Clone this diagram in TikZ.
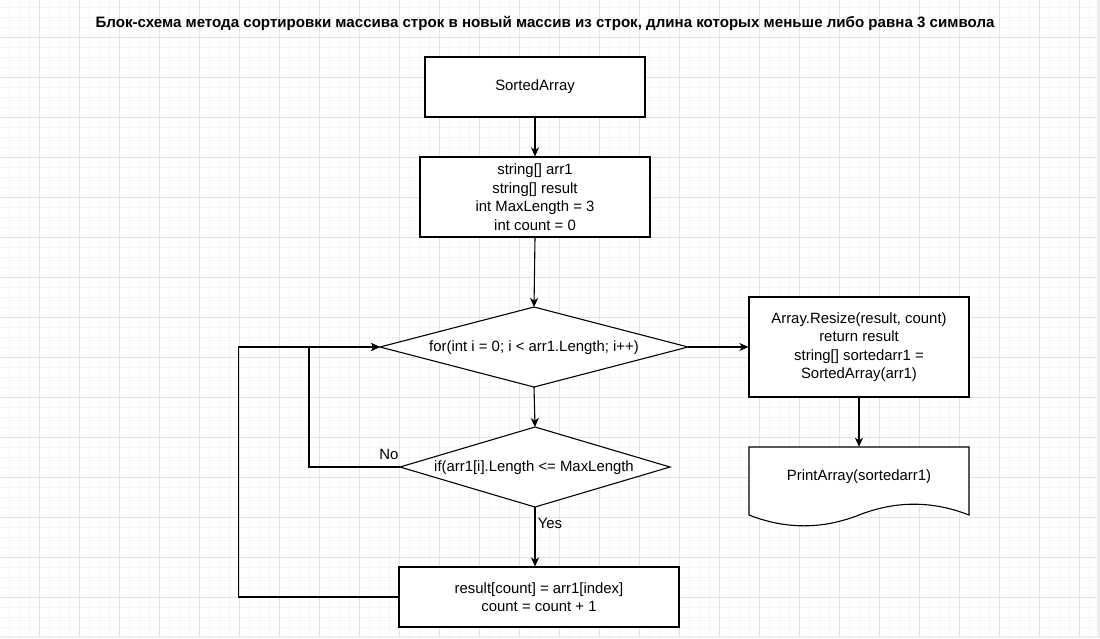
\documentclass[tikz,border=0pt]{standalone}
\usepackage{fontspec}
\setmainfont{Liberation Sans}
\usetikzlibrary{arrows.meta,shapes.geometric}
\definecolor{gmin}{HTML}{F5F5F5}
\definecolor{gmaj}{HTML}{E2E2E2}
\definecolor{edgegray}{HTML}{EEEEEE}
\begin{document}
\begin{tikzpicture}[x=1pt,y=-1pt,
  txt/.style={align=center,inner sep=0pt,font=\fontsize{14.9}{18.5}\selectfont},
  box/.style={txt,draw,line width=1.1pt,fill=white},
  dia/.style={draw,diamond,line width=1.1pt,fill=white,inner sep=0pt,outer sep=0pt},
  arr/.style={line width=1.1pt,-{Stealth[length=9pt,width=8pt,inset=2.5pt]}},
  lbl/.style={txt}
]
\useasboundingbox (0,0) rectangle (1100,638);
\fill[white] (0,0) rectangle (1100,638);
% grid
\foreach \i in {0,...,109} {\draw[gmin,line width=0.8pt] (9.5+10*\i,0) -- (9.5+10*\i,636);}
\foreach \i in {0,...,63} {\draw[gmin,line width=0.8pt] (0,7+10*\i) -- (1097,7+10*\i);}
\foreach \i in {1,...,27} {\draw[gmaj,line width=0.9pt] (40*\i-0.5,0) -- (40*\i-0.5,636);}
\foreach \i in {0,...,14} {\draw[gmaj,line width=0.9pt] (0,37+40*\i) -- (1097,37+40*\i);}
\fill[edgegray] (0,636) rectangle (1100,638);
\fill[edgegray] (1097,0) rectangle (1100,638);

% title
\node[font=\bfseries\fontsize{15.1}{18}\selectfont,inner sep=0pt] (title) at (545,23)
  {Блок-схема метода сортировки массива строк в новый массив из строк, длина которых меньше либо равна 3 символа};

% nodes
\node[box,minimum width=220pt,minimum height=60pt] (start) at (535,87) {\raisebox{-1.5pt}{SortedArray}};
\node[box,minimum width=230pt,minimum height=80pt] (vars) at (535,197)
  {string[] arr1\\string[] result\\int MaxLength = 3\\int count = 0};
\node[dia,minimum width=308pt,minimum height=80pt] (for) at (534,347) {};
\node[txt] (fortext) at (534,348) {for(int i = 0; i < arr1.Length; i++)};
\node[dia,minimum width=270pt,minimum height=80pt] (if) at (535,467) {};
\node[txt] (iftext) at (534,468) {if(arr1[i].Length <= MaxLength};
\node[box,minimum width=280pt,minimum height=60pt] (res) at (539,597)
  {result[count] = arr1[index]\\count = count + 1};
\node[box,minimum width=220pt,minimum height=100pt] (arrbox) at (859,347)
  {Array.Resize(result, count)\\return result\\string[] sortedarr1 =\\SortedArray(arr1)};
% document shape
\node[minimum width=220pt,minimum height=80pt,inner sep=0pt] (print) at (859,487) {};
\draw[line width=1.1pt,fill=white] (749,447) -- (969,447) -- (969,515)
  .. controls (932.33,500.6) and (895.67,500.6) .. (859,515)
  .. controls (822.33,529.4) and (785.67,529.4) .. (749,515) -- cycle;
\node[txt] (printtext) at (859,477) {PrintArray(sortedarr1)};

% connectors
\draw[arr] (start.south) -- (vars.north);
\draw[arr] (vars.south) -- (for.north);
\draw[arr] (for.south) -- (if.north);
\draw[arr] (if.south) -- (res.north -| if.south);
\draw[arr] (if.west) -- ++(-91,0) |- (for.west);
\draw[arr] (res.west) -- ++(-160,0) |- (for.west);
\draw[arr] (for.east) -- (arrbox.west);
\draw[arr] (arrbox.south) -- (print.north);

% labels
\node[lbl] (no) at (389,454) {No};
\node[lbl] (yes) at (550,523) {Yes};
\end{tikzpicture}
\end{document}
